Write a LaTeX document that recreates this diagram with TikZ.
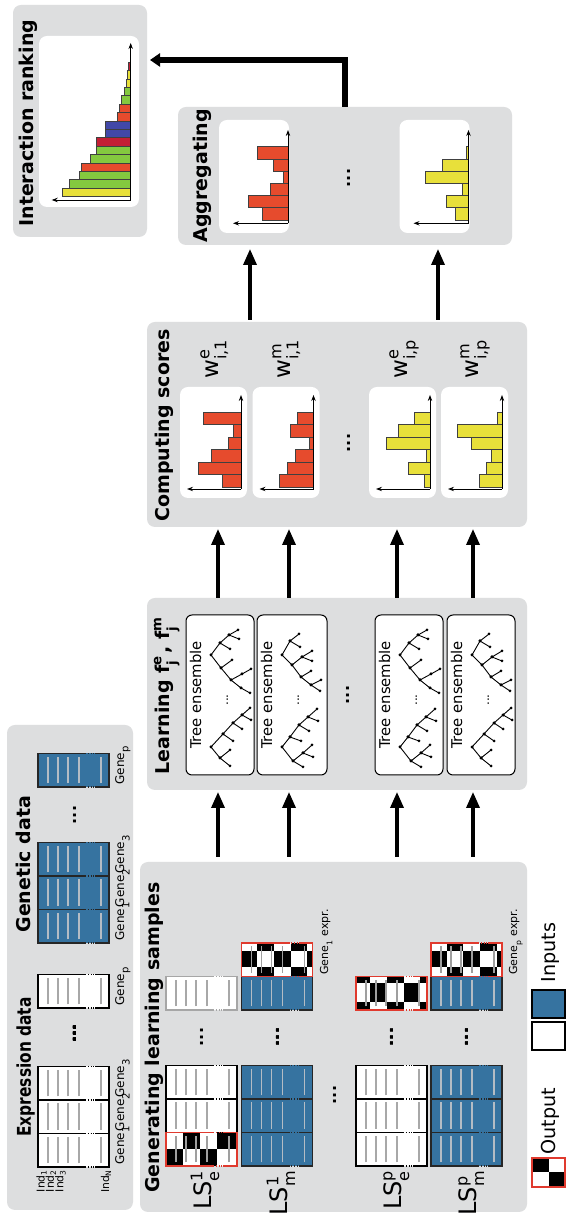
\documentclass[tikz,border=0pt]{standalone}
\usepackage{fontspec}
\setmainfont{DejaVu Sans}
\usetikzlibrary{arrows.meta}
\definecolor{panelgray}{HTML}{DDDEDF}
\definecolor{mblue}{HTML}{3673A0}
\definecolor{bred}{HTML}{E64B2D}
\definecolor{byel}{HTML}{E8E03A}
\definecolor{bgreen}{HTML}{84C93F}
\definecolor{bblue}{HTML}{4248A8}
\definecolor{bcrim}{HTML}{C41F35}
\definecolor{outred}{HTML}{E03A2E}
\definecolor{lgray}{HTML}{A8A8A8}
\definecolor{bgrayl}{HTML}{B4BCC4}
\newcommand\sbs[1]{\raisebox{-0.35ex}{\textsubscript{#1}}}
\newcommand\ssp[2]{\rlap{\textsuperscript{#1}}\sbs{#2}}
% border of a matrix column with dotted gap
\newcommand\mborder[3]{%
 \draw[#3, line width=0.6pt] (#1,{#2+47}) -- (#1,#2) -- ({#1+33.5},#2) -- ({#1+33.5},{#2+47});
 \draw[#3, line width=0.6pt] (#1,{#2+57}) -- (#1,{#2+71}) -- ({#1+33.5},{#2+71}) -- ({#1+33.5},{#2+57});
 \draw[#3, line width=0.6pt, dash pattern=on 0.5pt off 0.9pt] (#1,{#2+47}) -- (#1,{#2+57}) ({#1+33.5},{#2+47}) -- ({#1+33.5},{#2+57});}
% matrix column: X0, Y0, fill, border, line colour
\newcommand\mcol[5]{%
 \fill[#3] (#1,#2) rectangle ({#1+33.5},{#2+71});
 \foreach \q in {10,20,30,41,63} \draw[#5, line width=0.55pt] ({#1+3.5},{#2+\q}) -- ({#1+30},{#2+\q});
 \mborder{#1}{#2}{#4}}
% checker (output) column: X0, Y0, black cells
\newcommand\ccol[3]{%
 \fill[white] (#1,#2) rectangle ({#1+33.5},{#2+71});
 \foreach \pa/\pb/\pc/\pd in {#3} \fill[black] ({#1+\pa},{#2+\pb}) rectangle ({#1+\pc},{#2+\pd});
 \foreach \q in {10,20,30,41,63} \draw[gray!75, line width=0.55pt] ({#1+3.5},{#2+\q}) -- ({#1+30},{#2+\q});
 \mborder{#1}{#2}{outred}}
% histogram: X0, Y0, colour, six heights
\newcommand\hist[9]{%
 \fill[white, rounded corners=4pt] (#1,#2) rectangle ({#1+\hsW},{#2+\hsH});
 \foreach \hh [count=\kk from 0] in {#4,#5,#6,#7,#8,#9}
   \filldraw[fill=#3, draw=black!75, line width=0.45pt] ({#1+\hsO+\kk*\hsw},{#2+\hsB}) rectangle ({#1+\hsO+(\kk+1)*\hsw},{#2+\hsB-\hh});
 \draw[axarr] ({#1+\hsL},{#2+\hsB}) -- ({#1+\hsR},{#2+\hsB});
 \draw[axarr] ({#1+\hsL},{#2+\hsB}) -- ({#1+\hsL},{#2+\hsT});}
% tree: root X, root Y, edge-list macro
\newcommand\drawtree[3]{\begin{scope}[shift={(#1,#2)}]
 \foreach \pa/\pb/\pc/\pd in #3 {\draw[line width=0.45pt] (\pa,\pb) -- (\pc,\pd);
   \fill (\pa,\pb) circle (0.75pt); \fill (\pc,\pd) circle (0.75pt);}
 \end{scope}}
\newcommand\treeA{0/0/-11/9, -11/9/-19/19, -11/9/-3/19, 0/0/13/12, 13/12/6/22, 13/12/24/22, 24/22/18/31, 24/22/32/31, 32/31/27/40, 32/31/39/39}
\newcommand\treeB{0/0/-13/10, 0/0/12/9, -13/10/-25/20, -13/10/-5/21, -25/20/-33/30, -25/20/-19/31, -33/30/-38/39, -19/31/-14/40, 12/9/6/19, 12/9/20/18, 20/18/16/28, 20/18/25/27}
\newcommand\treeC{0/0/-14/11, 0/0/10/8, -14/11/-20/21, -14/11/-6/21, -6/21/-10/31, -6/21/2/30, 10/8/6/19, 10/8/22/17, 22/17/16/27, 22/17/30/26, 30/26/26/36, 30/26/38/35}
\newcommand\treeD{0/0/-10/10, 0/0/14/8, 14/8/8/18, 14/8/21/17, -10/10/-22/19, -10/10/-2/20, -22/19/-30/29, -22/19/-16/29, -30/29/-36/38, -30/29/-25/39, -2/20/-6/30, -2/20/4/30}
\begin{document}
\begin{tikzpicture}[rotate=90, transform shape, x=0.5pt, y=-0.5pt,
 panelst/.style={fill=panelgray, rounded corners=4pt, draw=none, inner sep=0pt},
 treebox/.style={fill=white, draw=black, line width=0.5pt, rounded corners=3pt, inner sep=0pt, minimum width=80pt},
 ttl/.style={font=\fontsize{9.5}{11}\selectfont\bfseries, inner sep=0pt, anchor=base west},
 lbl/.style={font=\fontsize{9.6}{11}\selectfont, inner sep=0pt, anchor=base west},
 genel/.style={font=\fontsize{6}{7}\selectfont, inner sep=0pt, anchor=base west},
 indl/.style={font=\fontsize{5.4}{6}\selectfont, inner sep=0pt, anchor=base east},
 lsl/.style={font=\fontsize{12}{14}\selectfont, inner sep=0pt, anchor=base east},
 wl/.style={font=\fontsize{11.5}{13}\selectfont, inner sep=0pt, anchor=base west},
 dotst/.style={font=\fontsize{8}{9}\selectfont\bfseries, inner sep=0pt, anchor=base},
 sdotst/.style={font=\fontsize{6}{7}\selectfont, inner sep=0pt, anchor=base},
 treel/.style={font=\fontsize{7.4}{8}\selectfont, inner sep=0pt, anchor=base},
 arr/.style={line width=1.7pt, -{Triangle[length=8pt,width=6.5pt]}},
 bigarr/.style={line width=2.6pt, line join=miter, -{Triangle[length=5pt,width=6.5pt]}},
 axarr/.style={line width=0.4pt, -{Stealth[length=3pt,width=2.2pt]}}]
\fill[white] (0,0) rectangle (1215,566);
\useasboundingbox (0,0) rectangle (1215,566);

% ---------------- panels
\node[panelst, minimum width=242.5pt, minimum height=63pt] (pexp) at (247.5,70) {};
\node[panelst, minimum width=175pt, minimum height=193.5pt] (pgen) at (178,333.5) {};
\node[panelst, minimum width=96pt, minimum height=190pt] (plearn) at (521,337) {};
\node[panelst, minimum width=102.5pt, minimum height=190pt] (pscore) at (790.5,337) {};
\node[panelst, minimum width=69pt, minimum height=167pt] (pagg) at (1039,345) {};
\node[panelst, minimum width=116pt, minimum height=67pt] (prank) at (1094,80) {};

% ---------------- panel 1: data
\node[ttl] (texp) at (78,31) {\scalebox{0.81}[1]{Expression data}};
\node[ttl] (tgen) at (282,31) {Genetic data};
\foreach \xx in {48,81.5,115,207} \mcol{\xx}{38}{white}{black}{lgray}
\foreach \xx in {272,305.5,339,428} \mcol{\xx}{38}{mblue}{black!85}{bgrayl}
\node[dotst] (dexp) at (181.5,76.8) {...};
\node[dotst] (dgen) at (400,76.8) {...};
\node[indl] (i1) at (46,44.5) {Ind\textsubscript{1}};
\node[indl] (i2) at (46,54) {Ind\textsubscript{2}};
\node[indl] (i3) at (46,63.5) {Ind\textsubscript{3}};
\node[indl] (iN) at (46,109) {Ind\textsubscript{N}};
\node[genel] (ge1) at (50,124) {Gene\sbs{1}};
\node[genel] (ge2) at (83.5,124) {Gene\sbs{2}};
\node[genel] (ge3) at (117,124) {Gene\sbs{3}};
\node[genel] (gep) at (209,124) {Gene\sbs{p}};
\node[genel] (gm1) at (274,124) {Gene\sbs{1}};
\node[genel] (gm2) at (307.5,124) {Gene\sbs{2}};
\node[genel] (gm3) at (341,124) {Gene\sbs{3}};
\node[genel] (gmp) at (430,124) {Gene\sbs{p}};

% ---------------- panel 2: learning samples
\node[ttl] (tls) at (22,159) {Generating learning samples};
% row LS1e
\mcol{82.5}{166}{white}{black}{lgray}
\mcol{116}{166}{white}{black}{lgray}
\mcol{205}{166}{white}{gray!70}{lgray}
\ccol{49}{166}{0/0/16.75/17, 16.75/17/33.5/34, 0/34/16.75/50.5, 16.75/50.5/33.5/71}
\node[dotst] (d1) at (178,203) {...};
% row LS1m
\foreach \xx in {49,82.5,116,205} \mcol{\xx}{241.5}{mblue}{black!85}{bgrayl}
\ccol{238.5}{241.5}{9/0/25.7/15.7, 0/15.7/9/32.3, 25.7/15.7/33.5/32.3, 9/32.3/25.7/49, 0/49/9/65.7, 25.7/49/33.5/65.7, 9/65.7/25.7/71}
\node[dotst] (d2) at (178,279) {...};
% row LSpe
\foreach \xx in {49,82.5,116} \mcol{\xx}{356}{white}{black}{lgray}
\ccol{205}{356}{0/0/8.3/14.3, 26.7/0/33.5/14.3, 8.3/14.3/26.7/31, 0/31/8.3/47.7, 26.7/31/33.5/47.7, 8.3/47.7/26.7/64.3, 0/64.3/8.3/71, 26.7/64.3/33.5/71}
\node[dotst] (d3) at (178,393) {...};
% row LSpm
\foreach \xx in {49,82.5,116,205} \mcol{\xx}{431}{mblue}{black!85}{bgrayl}
\ccol{238.5}{431}{9/0/25.7/15.7, 0/15.7/9/32.3, 25.7/15.7/33.5/32.3, 9/32.3/25.7/49, 0/49/9/65.7, 25.7/49/33.5/65.7, 9/65.7/25.7/71}
\node[dotst] (d4) at (178,468) {...};
\node[dotst] (d5) at (120,336) {...};
\node[lsl] (ls1) at (45,211) {LS\ssp{1}{e}};
\node[lsl] (ls2) at (45,287) {LS\ssp{1}{m}};
\node[lsl] (ls3) at (45,401) {LS\ssp{p}{e}};
\node[lsl] (ls4) at (45,476) {LS\ssp{p}{m}};
\node[font=\fontsize{5.5}{6}\selectfont, inner sep=0pt, anchor=base west] (ex1) at (240,328) {Gene\sbs{1} expr.};
\node[font=\fontsize{5.5}{6}\selectfont, inner sep=0pt, anchor=base west] (exp) at (240,517) {Gene\sbs{p} expr.};

% legend
\fill[white] (28,532) rectangle (57,565);
\fill[black] (42.5,532) rectangle (57,548.5);
\fill[black] (28,548.5) rectangle (42.5,565);
\draw[outred, line width=0.7pt] (28,532) rectangle (57,565);
\node[lbl] (tout) at (60,555) {Output};
\filldraw[fill=white, draw=black, line width=0.6pt] (165,532) rectangle (193,565);
\filldraw[fill=mblue, draw=black, line width=0.6pt] (197,532) rectangle (225,565);
\node[lbl] (tin) at (232,555) {Inputs};

% ---------------- panel 3: learning
\node[ttl] (tlearn) at (440,169) {Learning f\ssp{e}{j} , f\ssp{m}{j}};
\node[treebox, minimum height=34pt] (tb1) at (520,220) {};
\node[treebox, minimum height=35pt] (tb2) at (520,292) {};
\node[treebox, minimum height=34pt] (tb3) at (520,409) {};
\node[treebox, minimum height=34pt] (tb4) at (520,481) {};
\foreach \yy [count=\i] in {186,257,375,447} {
  \node[treel] (te\i) at (520,{\yy+15}) {Tree ensemble};
  \node[sdotst] (ts\i) at (515,{\yy+42}) {...};
}
\drawtree{468}{211}{\treeA}\drawtree{560}{211}{\treeB}
\drawtree{468}{282}{\treeC}\drawtree{560}{282}{\treeD}
\drawtree{468}{400}{\treeC}\drawtree{560}{400}{\treeB}
\drawtree{468}{472}{\treeA}\drawtree{560}{472}{\treeD}
\node[dotst] (d6) at (520,349) {...};

% ---------------- panel 4: scores
\node[ttl] (tscore) at (693,169) {Computing scores};
\def\hsW{111}\def\hsH{67}\def\hsB{61}\def\hsO{11}\def\hsw{12.5}\def\hsL{9}\def\hsR{103}\def\hsT{7}
\hist{717}{180}{bred}{19}{42.3}{30}{12.3}{7.3}{38}
\hist{717}{252.5}{bred}{34.3}{26}{18.3}{4.3}{23.3}{16}
\hist{717}{369}{byel}{6}{22}{3.7}{43.3}{32}{16}
\hist{717}{441}{byel}{22.3}{15.7}{11}{30.7}{44.3}{4.3}
\node[wl] (w1) at (836,218) {w\ssp{e}{i,1}};
\node[wl] (w2) at (836,290) {w\ssp{m}{i,1}};
\node[wl] (w3) at (836,407) {w\ssp{e}{i,p}};
\node[wl] (w4) at (836,478) {w\ssp{m}{i,p}};
\node[dotst] (d7) at (772,350) {...};

% ---------------- panel 5: aggregating
\node[ttl] (tagg) at (972,207) {Aggregating};
\def\hsW{113}\def\hsH{70}\def\hsB{69}\def\hsO{13}\def\hsw{12.2}\def\hsL{9.7}\def\hsR{103}\def\hsT{14}
\hist{982}{219}{bred}{26}{39.3}{17.7}{4.3}{15}{31}
\hist{982}{399.5}{byel}{13.3}{22.3}{5.7}{43.3}{25.7}{2.3}
\node[dotst] (d8) at (1037,350) {...};

% ---------------- panel 6: ranking
\node[ttl] (trank) at (988,34) {Interaction ranking};
\fill[white, rounded corners=4pt] (1008,39) rectangle (1179,139);
\foreach \cc/\hh [count=\kk from 0] in {byel/68, bgreen/61.3, bgreen/51.7, bred/49.7, bgreen/40.7, bgreen/34, bcrim/34, bblue/25.7, bblue/25.7, bred/13.3, bred/11.7, bgreen/9.7, bgreen/6.7, byel/4.7, byel/3, bcrim/2.3}
  \filldraw[fill=\cc, draw=black!75, line width=0.45pt] ({1018.3+\kk*8.4},130.7) rectangle ({1018.3+(\kk+1)*8.4},{130.7-\hh});
\draw[axarr] (1015,130.7) -- (1172,130.7);
\draw[axarr] (1015,130.7) -- (1015,51.7);

% ---------------- connectors
\foreach \yy [count=\i] in {218,289,397,473} {
  \coordinate (gs\i) at (358,\yy); \coordinate (li\i) at (423,\yy);
  \coordinate (lo\i) at (617,\yy); \coordinate (ci\i) at (686,\yy);
}
\foreach \i in {1,...,4} {\draw[arr] (gs\i) -- (li\i); \draw[arr] (lo\i) -- (ci\i);}
\coordinate (co1) at (895,250); \coordinate (ai1) at (966,250);
\coordinate (co2) at (895,438); \coordinate (ai2) at (966,438);
\draw[arr] (co1) -- (ai1);
\draw[arr] (co2) -- (ai2);
\coordinate (aggout) at (1108,345); \coordinate (bend) at (1155,345); \coordinate (rankin) at (1155,150);
\draw[bigarr] (aggout) -- (bend) -- (rankin);
\end{tikzpicture}
\end{document}
